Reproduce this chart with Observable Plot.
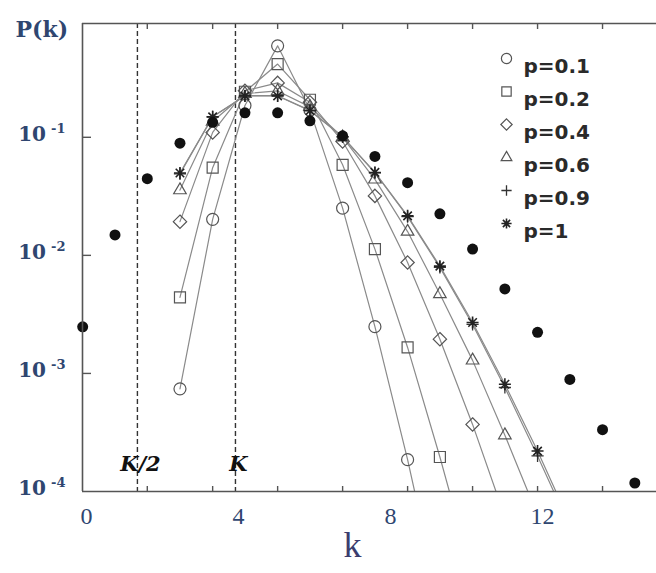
<!DOCTYPE html>
<html>
<head>
<meta charset="utf-8">
<script src="https://cdn.jsdelivr.net/npm/d3@7"></script>
<script src="https://cdn.jsdelivr.net/npm/@observablehq/plot@0.6"></script>
<style>
  html, body { margin: 0; padding: 0; background: #fff; }
  #chart svg { display: block; }
</style>
</head>
<body>
<div id="chart"></div>
<script>
// Degree k of each plotted point (read on the labelled k axis)
const k = [-0.1, 0.75, 1.6, 2.46, 3.32, 4.17, 5.03, 5.88, 6.74, 7.59, 8.45, 9.3, 10.16, 11.01, 11.87, 12.72, 13.58, 14.43];

// P(k) for each rewiring probability p, starting at k[3]
const pk01 = [7.4e-4, 0.0202, 0.186, 0.595, 0.170, 0.0251, 0.00249, 1.86e-4, 1.09e-5];
const pk02 = [0.0044, 0.0553, 0.243, 0.417, 0.208, 0.0585, 0.0113, 0.00166, 1.96e-4, 1.94e-5];
const pk04 = [0.0193, 0.110, 0.248, 0.289, 0.198, 0.0922, 0.0319, 0.0087, 0.00195, 3.7e-4, 6.1e-5];
const pk06 = [0.0357, 0.136, 0.234, 0.247, 0.181, 0.100, 0.0440, 0.0159, 0.0047, 0.00129, 3.0e-4, 6.3e-5];
const pk09 = [0.049, 0.149, 0.225, 0.225, 0.169, 0.101, 0.0501, 0.0213, 0.0079, 0.0026, 7.6e-4, 2.0e-4, 5.0e-5];
const pk10 = [0.0498, 0.149, 0.224, 0.224, 0.168, 0.101, 0.0504, 0.0216, 0.0081, 0.0027, 8.1e-4, 2.2e-4, 5.5e-5];

// Random-graph (Poisson) reference, filled dots, from k[0]
const poisson = [0.00248, 0.0149, 0.0446, 0.0892, 0.134, 0.161, 0.161, 0.138, 0.103, 0.0688, 0.0413, 0.0225, 0.0113, 0.0052, 0.00223, 8.9e-4, 3.34e-4, 1.18e-4];

const seriesLabels = ["p=0.1", "p=0.2", "p=0.4", "p=0.6", "p=0.9", "p=1"];

// Axes
const kAxisLabels = [0, 4, 8, 12];
const kTickMarks = [1.6, 3.32, 5.03, 6.74, 8.45, 10.16, 11.87, 13.58];
const yTickValues = [1e-1, 1e-2, 1e-3, 1e-4];
const yTickLabels = ["10\u207B\u00B9", "10\u207B\u00B2", "10\u207B\u00B3", "10\u207B\u2074"];
const xDomain = [-0.105, 15.0];
const yDomain = [1e-4, 0.92];

// Reference lines at K/2 and K
const kMarkers = [1.34, 3.92];
const kMarkerLabels = ["K/2", "K"];

// Eight-ray asterisk marker
const asterisk8 = {
  draw(context, size) {
    const r = Math.sqrt(size / Math.PI);
    const d = r * Math.SQRT1_2;
    context.moveTo(-r, 0); context.lineTo(r, 0);
    context.moveTo(0, -r); context.lineTo(0, r);
    context.moveTo(-d, -d); context.lineTo(d, d);
    context.moveTo(-d, d); context.lineTo(d, -d);
  }
};

const seriesValues = [pk01, pk02, pk04, pk06, pk09, pk10];
const seriesStyle = [
  {symbol: "circle", r: 6, stroke: "#555", strokeWidth: 1.2},
  {symbol: "square2", r: 7, stroke: "#555", strokeWidth: 1.2},
  {symbol: "diamond2", r: 6, stroke: "#555", strokeWidth: 1.2},
  {symbol: "triangle2", r: 6, stroke: "#555", strokeWidth: 1.2},
  {symbol: "plus", r: 4, stroke: "#333", strokeWidth: 1.3},
  {symbol: asterisk8, r: 6, stroke: "#222", strokeWidth: 1.6}
];

const rows = seriesLabels.flatMap((label, s) =>
  seriesValues[s].map((P, i) => ({series: label, k: k[i + 3], P}))
);

const frameColor = "#555";
const labelColor = "#2f4670";

const marks = [
  // dashed K/2 and K lines with their labels
  Plot.ruleX(kMarkers, {stroke: "#333", strokeWidth: 1.4, strokeDasharray: "5,3"}),
  Plot.text(kMarkerLabels, {
    x: (d, i) => kMarkers[i], y: 1.7e-4, dx: 3,
    fontSize: 21, fontFamily: "DejaVu Serif", fontWeight: "bold", fontStyle: "italic",
    fill: "#111", textAnchor: "middle"
  }),
  // connecting lines for each p
  Plot.line(rows, {x: "k", y: "P", z: "series", stroke: "#8a8a8a", strokeWidth: 1.2, clip: true}),
  // open markers for each p
  ...seriesLabels.map((label, s) =>
    Plot.dot(rows.filter(d => d.series === label), {
      x: "k", y: "P", fill: "none", clip: true, ...seriesStyle[s]
    })
  ),
  // Poisson reference
  Plot.dot(poisson, {x: (d, i) => k[i], y: d => d, r: 5.5, fill: "#111"}),
  // frame: left, bottom and top edges
  Plot.ruleX([xDomain[0]], {stroke: frameColor, strokeWidth: 1.6}),
  Plot.ruleY(yDomain, {stroke: frameColor, strokeWidth: 1.6}),
  // inward tick marks
  Plot.tickX(kTickMarks, {x: d => d, stroke: frameColor, strokeWidth: 1.4, insetBottom: 462}),
  Plot.tickX(kTickMarks, {x: d => d, stroke: frameColor, strokeWidth: 1.4, insetTop: 463}),
  Plot.tickY(yTickValues.slice(0, 3), {y: d => d, stroke: frameColor, strokeWidth: 1.4, insetRight: 565}),
  // tick labels
  Plot.axisX(kAxisLabels, {
    tickSize: 0, tickPadding: 15, label: null,
    fontSize: 24, fontFamily: "Liberation Serif", color: labelColor
  }),
  Plot.axisY(yTickValues, {
    anchor: "left", tickSize: 0, tickPadding: 17, label: null, dy: -3,
    tickFormat: d => yTickLabels[yTickValues.indexOf(d)],
    fontSize: 20, fontFamily: "DejaVu Serif", fontWeight: "bold", color: labelColor
  }),
  // axis titles
  Plot.text(["P(k)"], {
    frameAnchor: "top-left", dx: -67, dy: -2, textAnchor: "start",
    fontSize: 22, fontFamily: "DejaVu Serif", fontWeight: "bold", fill: labelColor
  }),
  Plot.text(["k"], {
    frameAnchor: "bottom", dx: -17, dy: 65,
    fontSize: 36, fontFamily: "Liberation Serif", fill: "#3b3d6e"
  }),
  // legend
  ...seriesLabels.flatMap((label, s) => [
    Plot.dot([label], {
      frameAnchor: "top-right", dx: -150, dy: 35 + 33 * s,
      ...seriesStyle[s], r: seriesStyle[s].r * 0.85, fill: "none"
    }),
    Plot.text([label], {
      frameAnchor: "top-right", dx: -133, dy: 35 + 33 * s, textAnchor: "start",
      fontSize: 20, fontFamily: "DejaVu Sans", fontWeight: "bold", fill: "#2a2a2a"
    })
  ])
];

const chart = Plot.plot({
  width: 656,
  height: 573,
  marginLeft: 82,
  marginRight: 0,
  marginTop: 23,
  marginBottom: 82,
  style: {background: "#fff"},
  x: {type: "linear", domain: xDomain},
  y: {type: "log", domain: yDomain},
  marks
});

// Set the exponents of the y tick labels as raised, smaller text
const supToPlain = {"\u207B": "-", "\u00B9": "1", "\u00B2": "2", "\u00B3": "3", "\u2074": "4"};
d3.select(chart).selectAll('g[aria-label="y-axis tick label"] text').each(function () {
  const label = this.textContent;
  const base = label.slice(0, 2);
  const exponent = Array.from(label.slice(2)).map(c => supToPlain[c] ?? c).join("");
  const text = d3.select(this).text(base);
  text.append("tspan")
    .attr("dx", 5)
    .attr("dy", -8)
    .attr("font-size", 13)
    .text(exponent);
});

document.getElementById("chart").append(chart);
</script>
</body>
</html>
